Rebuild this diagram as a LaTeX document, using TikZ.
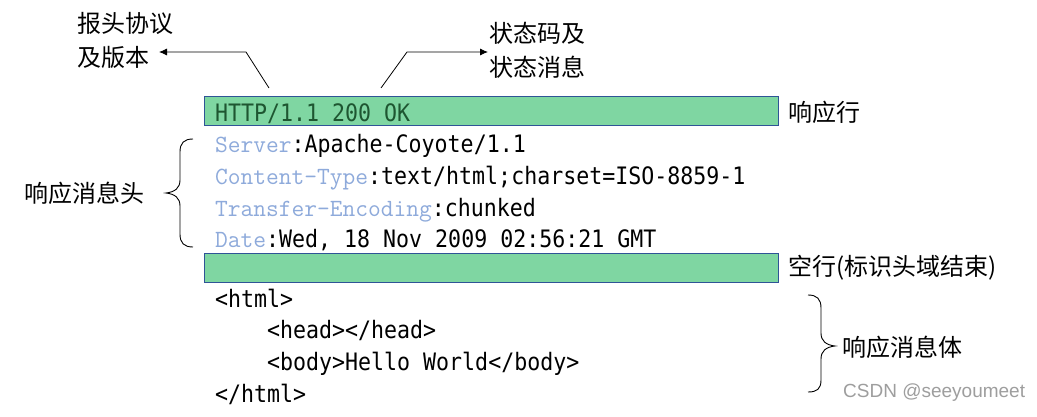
\documentclass[tikz,border=0pt]{standalone}
\usepackage{fontspec}
\usetikzlibrary{arrows.meta}
\newfontfamily\cjk{Noto Sans CJK SC}
\newfontfamily\valfont[FakeStretch=0.9]{DejaVu Sans Mono}
\newfontfamily\wmfont{Liberation Sans}
\definecolor{barfill}{HTML}{7FD6A2}
\definecolor{barline}{HTML}{2F5496}
\definecolor{keyblue}{HTML}{8EAADB}
\definecolor{httpgreen}{HTML}{1E5631}
\newcommand{\K}[1]{{\ttfamily\fontsize{24.76}{24}\selectfont\color{keyblue}#1}}
\tikzset{
  bar/.style={draw=barline, line width=0.9pt, fill=barfill, inner sep=0pt, minimum width=574pt, minimum height=29pt},
  code/.style={anchor=base west, inner sep=0pt, font=\valfont\fontsize{24}{24}\selectfont},
  cn/.style={anchor=west, inner sep=0pt, font=\cjk\fontsize{24}{34}\selectfont, align=left},
  lead/.style={line width=0.8pt, -{Latex[length=8pt,width=7pt]}},
  bracestyle/.style={line width=0.9pt}
}
\begin{document}
\begin{tikzpicture}[x=1pt,y=-1pt]
\useasboundingbox (0,0) rectangle (1037,417);
\fill[white] (0,0) rectangle (1037,417);
% bars
\node[bar] (bar1) at (491,110.5) {};
\node[bar] (bar2) at (491,267.5) {};
% texts
\node[code, text=httpgreen] (status) at (215,122) {HTTP/1.1 200 OK};
\node[code] (h1) at (215,153) {\K{Server}:Apache-Coyote/1.1};
\node[code] (h2) at (215,184.5) {\K{Content-Type}:text/html;charset=ISO-8859-1};
\node[code] (h3) at (215,216) {\K{Transfer-Encoding}:chunked};
\node[code] (h4) at (215,247.5) {\K{Date}:Wed, 18 Nov 2009 02:56:21 GMT};
\node[code] (b1) at (215,307) {<html>};
\node[code] (b2) at (267,338) {<head></head>};
\node[code] (b3) at (267,370) {<body>Hello World</body>};
\node[code] (b4) at (215,402) {</html>};
% labels
\node[cn] (ver) at (77,40) {报头协议\\及版本};
\node[cn] (stat) at (489,50) {状态码及\\状态消息};
\node[cn] (resline) at (788,112) {响应行};
\node[cn] (blank) at (788,268) {空行(标识头域结束)};
\node[cn] (hdr) at (24,193) {响应消息头};
\node[cn] (body) at (842,347) {响应消息体};
\node[anchor=base west, inner sep=0pt, text=black!38, font=\wmfont\fontsize{19}{19}\selectfont] (wm) at (843,397) {CSDN @seeyoumeet};
% leaders
\coordinate (p1) at (269,88);
\coordinate (q1) at (246,52);
\coordinate (e1) at (159,52);
\draw[lead] (p1) -- (q1) -- (e1);
\coordinate (p2) at (381,88);
\coordinate (q2) at (407,52);
\coordinate (e2) at (488,52);
\draw[lead] (p2) -- (q2) -- (e2);
% left brace
\draw[bracestyle] (193,139) .. controls (184,139) and (180,143) .. (180,152)
  -- (180,180) .. controls (180,188) and (175,192) .. (166,193)
  .. controls (175,194) and (180,198) .. (180,206)
  -- (180,234) .. controls (180,243) and (184,247) .. (193,247);
% right brace
\draw[bracestyle] (808,295) .. controls (817,295) and (821,299) .. (821,308)
  -- (821,333) .. controls (821,341) and (826,345) .. (835,346)
  .. controls (826,347) and (821,351) .. (821,359)
  -- (821,380) .. controls (821,389) and (817,392) .. (808,392);
\end{tikzpicture}
\end{document}
